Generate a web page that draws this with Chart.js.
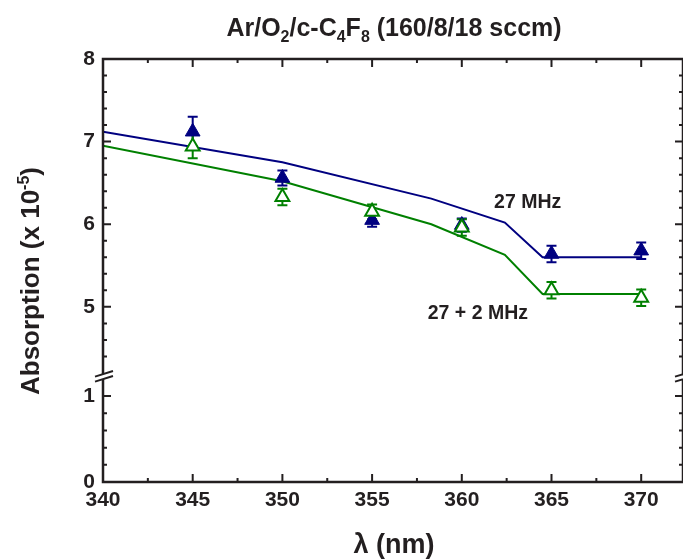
<!DOCTYPE html>
<html>
<head>
<meta charset="utf-8">
<script src="https://cdn.jsdelivr.net/npm/chart.js@4.4.0/dist/chart.umd.min.js"></script>
<style>
  html, body { margin: 0; padding: 0; background: #fff; }
</style>
</head>
<body>
<canvas id="myChart" width="683" height="559"></canvas>
<script>
// measured points
const wavelength = [345, 350, 355, 360, 365, 370];
const abs27 = [7.12, 6.56, 6.05, 5.99, 5.64, 5.68];
const err27 = [0.18, 0.09, 0.08, 0.08, 0.10, 0.10];
const abs27p2 = [6.94, 6.33, 6.15, 5.96, 5.20, 5.11];
const err27p2 = [0.14, 0.10, 0.09, 0.10, 0.10, 0.10];

// model curves
const fitX = [340, 350, 358.3, 362.4, 364.5, 370];
const fit27 = [7.12, 6.75, 6.31, 6.02, 5.60, 5.60];
const fit27p2 = [6.95, 6.52, 6.00, 5.63, 5.155, 5.155];

// ticks
const xTicks = [340, 345, 350, 355, 360, 365, 370];
const yMajor = [0, 1, 5, 6, 7, 8];
const yMinor = [0.2, 0.4, 0.6, 0.8, 4.4, 4.6, 4.8, 5.2, 5.4, 5.6, 5.8, 6.2, 6.4, 6.6, 6.8, 7.2, 7.4, 7.6, 7.8];

const labels = [
    { text: '27 MHz', x: 361.8, y: 6.26 },
    { text: '27 + 2 MHz', x: 358.1, y: 4.92 }
];

// broken y axis: 0..1 at the bottom, 5..8 above the break
function toAxis(v) {
    return v < 3 ? v * 1.04 : v - 5 + 2.12;
}

const ink = '#231f20';
const navy = 'rgb(0,0,128)';
const green = 'rgb(0,128,0)';
const FONT = '"Liberation Sans", Arial, sans-serif';

const pts = (xs, ys) => xs.map((x, i) => ({ x: x, y: toAxis(ys[i]) }));

const frame = {
    id: 'frame',
    beforeDatasetsDraw(chart) {
        const { ctx, scales: { x, y } } = chart;
        ctx.save();
        [[abs27, err27, navy], [abs27p2, err27p2, green]].forEach(([vals, errs, col]) => {
            ctx.strokeStyle = col;
            ctx.lineWidth = 2;
            vals.forEach((v, i) => {
                const px = x.getPixelForValue(wavelength[i]);
                const top = y.getPixelForValue(toAxis(v + errs[i]));
                const bot = y.getPixelForValue(toAxis(v - errs[i]));
                ctx.beginPath();
                ctx.moveTo(px, top); ctx.lineTo(px, bot);
                ctx.moveTo(px - 5, top); ctx.lineTo(px + 5, top);
                ctx.moveTo(px - 5, bot); ctx.lineTo(px + 5, bot);
                ctx.stroke();
            });
        });
        ctx.restore();
    },
    afterDraw(chart) {
        const { ctx, chartArea: a, scales: { x, y } } = chart;
        ctx.save();
        ctx.strokeStyle = ink;
        ctx.lineWidth = 2.5;
        ctx.strokeRect(a.left, a.top, a.right - a.left, a.bottom - a.top);

        // x ticks, pointing in
        ctx.lineWidth = 2;
        ctx.beginPath();
        for (let v = 342.5; v <= 372; v += 2.5) {
            const len = v % 5 === 0 ? 8 : 4;
            const px = x.getPixelForValue(v);
            ctx.moveTo(px, a.bottom); ctx.lineTo(px, a.bottom - len);
            ctx.moveTo(px, a.top); ctx.lineTo(px, a.top + len);
        }
        yMajor.forEach(v => {
            const py = y.getPixelForValue(toAxis(v));
            ctx.moveTo(a.left, py); ctx.lineTo(a.left + 8, py);
            ctx.moveTo(a.right, py); ctx.lineTo(a.right - 8, py);
        });
        yMinor.forEach(v => {
            const py = y.getPixelForValue(toAxis(v));
            ctx.moveTo(a.left, py); ctx.lineTo(a.left + 4, py);
            ctx.moveTo(a.right, py); ctx.lineTo(a.right - 4, py);
        });
        ctx.stroke();

        // axis break marks
        const yb = y.getPixelForValue(1.275);
        [a.left, a.right].forEach(xe => {
            ctx.fillStyle = '#fff';
            ctx.beginPath();
            ctx.moveTo(xe - 8, yb);
            ctx.lineTo(xe + 10, yb - 5.6);
            ctx.lineTo(xe + 10, yb - 0.6);
            ctx.lineTo(xe - 8, yb + 5);
            ctx.closePath();
            ctx.fill();
            ctx.beginPath();
            ctx.moveTo(xe - 8, yb); ctx.lineTo(xe + 10, yb - 5.6);
            ctx.moveTo(xe - 8, yb + 5); ctx.lineTo(xe + 10, yb - 0.6);
            ctx.stroke();
        });

        ctx.fillStyle = ink;

        // chart title with subscripts
        const big = 'bold 25px ' + FONT;
        const small = 'bold 16px ' + FONT;
        const parts = [['Ar/O', 0], ['2', 1], ['/c-C', 0], ['4', 1], ['F', 0], ['8', 1], [' (160/8/18 sccm)', 0]];
        let w = 0;
        parts.forEach(([t, s]) => { ctx.font = s ? small : big; w += ctx.measureText(t).width; });
        let cx = 394 - w / 2;
        ctx.textBaseline = 'alphabetic';
        ctx.textAlign = 'left';
        parts.forEach(([t, s]) => {
            ctx.font = s ? small : big;
            ctx.fillText(t, cx, s ? 42 : 36);
            cx += ctx.measureText(t).width;
        });

        // x title
        ctx.font = 'bold 27px ' + FONT;
        ctx.textAlign = 'center';
        ctx.textBaseline = 'middle';
        ctx.fillText('λ (nm)', 394, 546);

        // y title, rotated, with superscript
        ctx.save();
        ctx.translate(30, 281);
        ctx.rotate(-Math.PI / 2);
        const yb1 = 'bold 26px ' + FONT;
        const ys1 = 'bold 16px ' + FONT;
        const yparts = [['Absorption (x 10', 0], ['-5', 1], [')', 0]];
        let yw = 0;
        yparts.forEach(([t, s]) => { ctx.font = s ? ys1 : yb1; yw += ctx.measureText(t).width; });
        let ty = -yw / 2;
        ctx.textAlign = 'left';
        ctx.textBaseline = 'alphabetic';
        yparts.forEach(([t, s]) => {
            ctx.font = s ? ys1 : yb1;
            ctx.fillText(t, ty, s ? -1 : 9);
            ty += ctx.measureText(t).width;
        });
        ctx.restore();

        // series labels
        ctx.font = 'bold 19.5px ' + FONT;
        ctx.textAlign = 'left';
        ctx.textBaseline = 'middle';
        labels.forEach(l => {
            ctx.fillText(l.text, x.getPixelForValue(l.x), y.getPixelForValue(toAxis(l.y)));
        });
        ctx.restore();
    }
};

const config = {
    type: 'scatter',
    data: {
        datasets: [
            {
                label: '27 MHz fit',
                data: pts(fitX, fit27),
                showLine: true,
                borderColor: navy,
                borderWidth: 2,
                pointRadius: 0,
                order: 4
            },
            {
                label: '27 + 2 MHz fit',
                data: pts(fitX, fit27p2),
                showLine: true,
                borderColor: green,
                borderWidth: 2,
                pointRadius: 0,
                order: 3
            },
            {
                label: '27 MHz',
                data: pts(wavelength, abs27),
                pointStyle: 'triangle',
                pointRadius: 8.5,
                backgroundColor: navy,
                borderColor: navy,
                borderWidth: 1,
                order: 2
            },
            {
                label: '27 + 2 MHz',
                data: pts(wavelength, abs27p2),
                pointStyle: 'triangle',
                pointRadius: 8,
                backgroundColor: '#fff',
                borderColor: green,
                borderWidth: 2,
                order: 1
            }
        ]
    },
    options: {
        responsive: false,
        animation: false,
        layout: { autoPadding: false, padding: { top: 59, right: -2, left: 0, bottom: 0 } },
        plugins: { legend: { display: false }, tooltip: { enabled: false } },
        scales: {
            x: {
                type: 'linear',
                min: 340,
                max: 372.33,
                afterFit: s => { s.height = 77; s.paddingLeft = 0; s.paddingRight = -2; },
                afterBuildTicks: s => { s.ticks = xTicks.map(v => ({ value: v })); },
                grid: { display: false, drawTicks: false },
                border: { display: false },
                ticks: {
                    padding: 6,
                    color: ink,
                    font: { family: FONT, size: 21, weight: 'bold' },
                    maxRotation: 0
                }
            },
            y: {
                type: 'linear',
                min: 0,
                max: 5.12,
                afterFit: s => { s.width = 103; s.paddingTop = 0; s.paddingBottom = 0; },
                afterBuildTicks: s => { s.ticks = yMajor.map(v => ({ value: toAxis(v) })); },
                grid: { display: false, drawTicks: false },
                border: { display: false },
                ticks: {
                    padding: 8,
                    color: ink,
                    autoSkip: false,
                    font: { family: FONT, size: 21, weight: 'bold' },
                    callback: (val, i) => yMajor[i]
                }
            }
        }
    },
    plugins: [frame]
};

new Chart(document.getElementById('myChart'), config);
</script>
</body>
</html>
